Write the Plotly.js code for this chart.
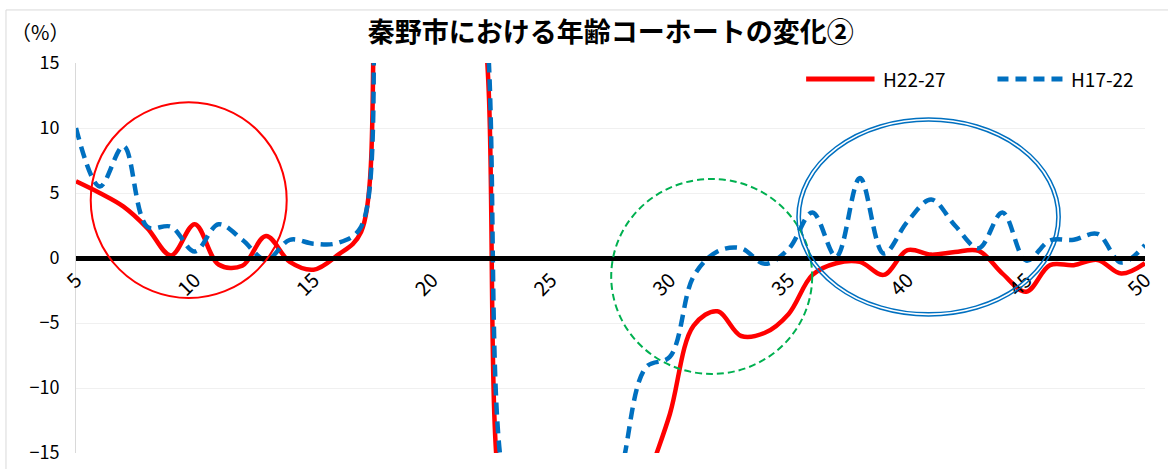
<!DOCTYPE html>
<html>
<head>
<meta charset="utf-8">
<script src="https://cdn.plot.ly/plotly-3.0.1.min.js"></script>
<style>
  html, body { margin: 0; padding: 0; background: #fff; }
  #chart { width: 1168px; height: 469px; }
</style>
</head>
<body>
<div id="chart"></div>
<script>
// 年齢（各コーホート）
const ages = [5, 6, 7, 8, 9, 10, 11, 12, 13, 14, 15, 16, 17, 18, 19, 20, 21, 22, 23, 24, 25, 26, 27,
  28, 29, 30, 31, 32, 33, 34, 35, 36, 37, 38, 39, 40, 41, 42, 43, 44, 45, 46, 47, 48, 49, 50];

// H22-27 変化率 (%)
const h2227 = [5.9, 5.0, 3.95, 2.3, 0.2, 2.6, -0.5, -0.6, 1.7, -0.3, -0.9, 0.2, 2.0,
  28, 30, 28, 24, 20, -20, -24, -26, -26, -26, -25, -17.5,
  -12.0, -5.2, -4.1, -6.0, -5.75, -4.3, -1.3, -0.4, -0.3, -1.3, 0.6,
  0.26, 0.46, 0.55, -1.2, -2.6, -0.55, -0.55, -0.15, -1.2, -0.4];

// H17-22 変化率 (%)
const h1722 = [10.0, 5.5, 8.6, 2.4, 2.4, 0.5, 2.6, 1.4, -0.15, 1.4, 1.1, 1.15, 2.4,
  30, 32, 30, 26, 22, -17, -22, -25, -25, -24, -16, -8.4,
  -7.6, -1.4, 0.5, 0.75, -0.45, 0.7, 3.5, 0.1, 6.15, 0.35, 2.8,
  4.5, 2.5, 0.75, 3.5, -0.2, 1.35, 1.4, 1.85, -0.35, 1.0];

const seriesNames = ["H22-27", "H17-22"];
const xTicks = [5, 10, 15, 20, 25, 30, 35, 40, 45, 50];
const yTicks = [-15, -10, -5, 0, 5, 10, 15];

const font = "'Noto Sans CJK JP', 'Noto Sans', sans-serif";

const redLine = { color: "#FF0000", width: 4.5, shape: "spline" };
const blueLine = { color: "#0070C0", width: 4.5, shape: "spline", dash: "12px,7px" };

const traces = [
  { type: "scatter", mode: "lines", name: seriesNames[0], x: ages, y: h2227, line: redLine },
  { type: "scatter", mode: "lines", name: seriesNames[1], x: ages, y: h1722, line: blueLine },
];

// 注目範囲の丸印
const circles = [
  { type: "circle", xref: "x", yref: "y", x0: 5.62, x1: 13.87, y0: -3.08, y1: 11.98,
    line: { color: "#FF0000", width: 2 } },
  { type: "circle", xref: "x", yref: "y", x0: 27.53, x1: 35.99, y0: -8.92, y1: 6.08,
    line: { color: "#00B050", width: 2, dash: "7px,4px" } },
  { type: "circle", xref: "x", yref: "y", x0: 35.35, x1: 46.43, y0: -4.46, y1: 10.77,
    line: { color: "#0070C0", width: 1.5 } },
  { type: "circle", xref: "x", yref: "y", x0: 35.49, x1: 46.29, y0: -4.22, y1: 10.53,
    line: { color: "#0070C0", width: 1.5 } },
];

// 凡例（系列と同じ線種で描く）
const legendY = 0.959;
const legendShapes = [
  { type: "line", xref: "paper", yref: "paper", x0: 0.683, x1: 0.747, y0: legendY, y1: legendY,
    line: { color: redLine.color, width: 5 } },
  { type: "line", xref: "paper", yref: "paper", x0: 0.862, x1: 0.925, y0: legendY, y1: legendY,
    line: { color: blueLine.color, width: 5, dash: "11px,7px" } },
];
const legendLabels = [
  { text: seriesNames[0], x: 0.753 },
  { text: seriesNames[1], x: 0.929 },
].map(d => ({
  text: d.text, xref: "paper", yref: "paper", x: d.x, y: legendY,
  xanchor: "left", yanchor: "middle", showarrow: false, font: { size: 19 },
}));

const frame = {
  type: "rect", xref: "paper", yref: "paper", x0: -0.0655, x1: 1.04, y0: -0.1, y1: 1.136,
  line: { color: "#d9d9d9", width: 1 }, layer: "below",
};

const layout = {
  width: 1168, height: 469,
  margin: { l: 76, r: 23, t: 63, b: 16 },
  paper_bgcolor: "#fff", plot_bgcolor: "#fff",
  font: { family: font, color: "#000", size: 16 },
  title: {
    text: "<b>秦野市における年齢コーホートの変化②</b>",
    font: { family: font, size: 27, color: "#000" },
    x: 0.523, xanchor: "center", y: 0.93, yanchor: "middle",
  },
  showlegend: false,
  xaxis: {
    range: [5, 50], tickvals: xTicks, tickangle: -45,
    anchor: "free", position: 0.5,
    showline: true, linecolor: "#000", linewidth: 4.5,
    showgrid: false, zeroline: false, ticks: "",
    tickfont: { size: 20 },
  },
  yaxis: {
    range: [-15, 15], tickvals: yTicks,
    showgrid: true, gridcolor: "#f0f0f0", gridwidth: 1,
    zeroline: false, showline: true, linecolor: "#d9d9d9", linewidth: 1,
    ticks: "", tickfont: { size: 18 }, ticklabelstandoff: 12,
  },
  shapes: [frame, ...circles, ...legendShapes],
  annotations: [
    { text: "（%）", xref: "paper", yref: "paper", x: -0.063, y: 1.08,
      xanchor: "left", yanchor: "middle", showarrow: false, font: { size: 20 } },
    ...legendLabels,
  ],
};

Plotly.newPlot("chart", traces, layout, { displayModeBar: false, staticPlot: true });
</script>
</body>
</html>
